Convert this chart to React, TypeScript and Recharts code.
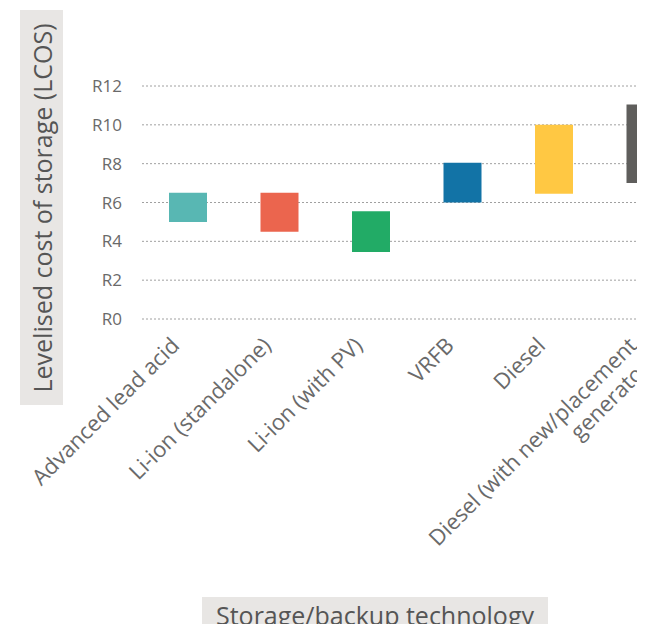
import { Bar, BarChart, CartesianGrid, Cell, Label, XAxis, YAxis } from 'recharts';

const categories = [
  'Advanced lead acid',
  'Li-ion (standalone)',
  'Li-ion (with PV)',
  'VRFB',
  'Diesel',
  'Diesel (with new/placement generator)',
];
const lowValues = [5.0, 4.5, 3.45, 6.0, 6.45, 7.0];
const highValues = [6.5, 6.5, 5.55, 8.05, 10.0, 11.05];
const barColors = ['#58b7b3', '#eb654e', '#22ab66', '#1273a6', '#ffc843', '#5f5e5c'];
const yTicks = [0, 2, 4, 6, 8, 10, 12];

const data = categories.map((name, i) => ({ name, range: [lowValues[i], highValues[i]] }));

const FONT = '"Open Sans", sans-serif';
const TEXT = '#6a6a6a';
const TITLE = '#555555';
const BOX = '#e8e6e4';

// wrap long category names onto a second line
const wrap = (label: string, max = 26) => {
  const lines: string[] = [];
  let cur = '';
  label.split(' ').forEach((w) => {
    const next = cur ? `${cur} ${w}` : w;
    if (next.length > max && cur) {
      lines.push(cur);
      cur = w;
    } else {
      cur = next;
    }
  });
  if (cur) lines.push(cur);
  return lines;
};

const CategoryTick = (props: any) => {
  const { x, y, payload } = props;
  const lines = wrap(String(payload.value));
  return (
    <g transform={`translate(${x - 7},${y + 20}) rotate(-45)`}>
      <text textAnchor="end" fill={TEXT} fontSize={22} fontFamily={FONT}>
        {lines.map((l, i) => (
          <tspan key={l} x={0} dy={i === 0 ? 0 : 25}>
            {l}
          </tspan>
        ))}
      </text>
    </g>
  );
};

const YTitle = () => (
  <g>
    <rect x={20} y={10} width={43} height={395} fill={BOX} />
    <text
      x={41.5}
      y={208}
      transform="rotate(-90 41.5 208)"
      textAnchor="middle"
      dominantBaseline="central"
      fill={TITLE}
      fontSize={25}
      fontFamily={FONT}
    >
      Levelised cost of storage (LCOS)
    </text>
  </g>
);

const XTitle = () => (
  <g>
    <rect x={202} y={597} width={346} height={40} fill={BOX} />
    <text x={375} y={625} textAnchor="middle" fill={TITLE} fontSize={25} fontFamily={FONT}>
      Storage/backup technology
    </text>
  </g>
);

export default function App() {
  return (
    <div style={{ margin: -8, width: 645, height: 632, overflow: 'hidden', background: '#fff' }}>
      <BarChart width={691} height={632} data={data} margin={{ top: 86, right: 0, bottom: 0, left: 0 }}>
        <CartesianGrid vertical={false} stroke="#a0a0a0" strokeDasharray="2 2" />
        <XAxis
          dataKey="name"
          height={313}
          interval={0}
          axisLine={false}
          tickLine={false}
          tick={<CategoryTick />}
        >
          <Label content={<XTitle />} />
        </XAxis>
        <YAxis
          width={142}
          domain={[0, 12]}
          ticks={yTicks}
          tickFormatter={(v) => `R${v}`}
          axisLine={false}
          tickLine={false}
          tickMargin={14}
          tick={{ fill: TEXT, fontSize: 17, fontFamily: FONT }}
        >
          <Label content={<YTitle />} />
        </YAxis>
        <Bar dataKey="range" barSize={38} isAnimationActive={false}>
          {data.map((d, i) => (
            <Cell key={d.name} fill={barColors[i]} />
          ))}
        </Bar>
      </BarChart>
    </div>
  );
}
